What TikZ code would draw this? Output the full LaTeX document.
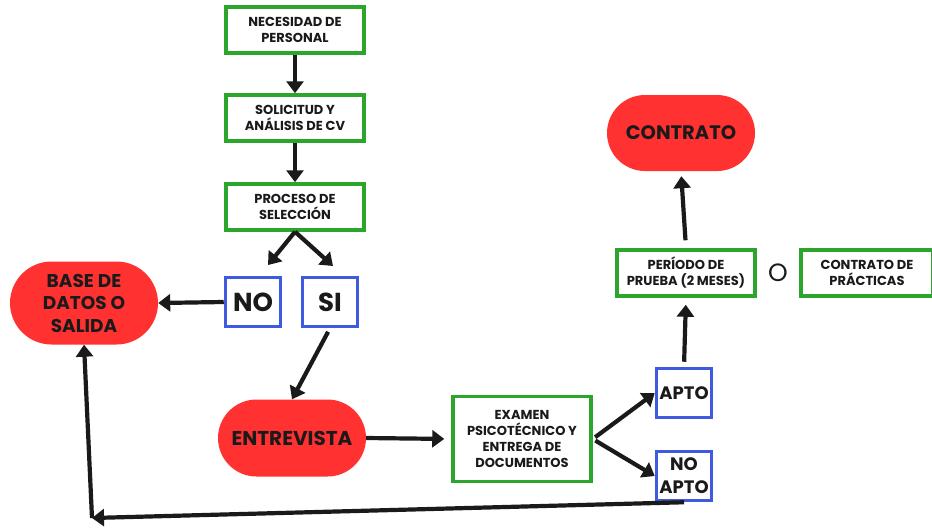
\documentclass[tikz,border=0pt]{standalone}
\usepackage{fontspec}
\setmainfont{Poppins}
\usepackage{xcolor}
\definecolor{flowgreen}{HTML}{2CA52C}
\definecolor{flowred}{HTML}{FF3131}
\definecolor{flowblue}{HTML}{3E5BE0}
\definecolor{flowtext}{HTML}{1A1A1A}
\usepackage{tikz}
\usetikzlibrary{arrows.meta, shapes.misc}

\begin{document}
\begin{tikzpicture}[x=1pt, y=-1pt,
    greenbox/.style={draw=flowgreen, line width=3.5pt, minimum width=138pt, minimum height=46pt,
      align=center, text=flowtext, inner sep=1pt, font=\bfseries\fontsize{13}{16}\selectfont},
    bluebox/.style={draw=flowblue, line width=3.5pt, minimum width=55pt, minimum height=49pt,
      align=center, text=flowtext, inner sep=0pt},
    redpill/.style={fill=flowred, rounded rectangle, minimum width=152pt, minimum height=80pt,
      align=center, text=flowtext, inner sep=2pt},
    flow/.style={-{Triangle[length=12pt, width=17pt]}, line width=4.2pt, flowtext}]
    \useasboundingbox (0,0) rectangle (932,528);
    % Main column
    \node[greenbox] (necesidad) at (295,30) {NECESIDAD DE\\PERSONAL};
    \node[greenbox] (solicitud) at (295,118) {SOLICITUD Y\\ANÁLISIS DE CV};
    \node[greenbox] (proceso) at (295,207) {PROCESO DE\\SELECCIÓN};
    \draw[flow] (necesidad.south) -- (solicitud.north);
    \draw[flow] (solicitud.south) -- (proceso.north);
    % Decision NO / SI
    \node[bluebox, font=\bfseries\fontsize{26}{28}\selectfont] (no) at (253,302) {NO};
    \node[bluebox, font=\bfseries\fontsize{26}{28}\selectfont] (si) at (330,302) {SI};
    \coordinate (noTip) at (268,265);
    \coordinate (siTip) at (333,266);
    \draw[flow] (proceso.south) -- (noTip);
    \draw[flow] (proceso.south) -- (siTip);
    \node[redpill, minimum height=83pt, font=\bfseries\fontsize{18.5}{22.5}\selectfont] (base) at (84,303)
      {BASE DE\\DATOS O\\SALIDA};
    \draw[flow] (no.west) -- (base.east);
    % Interview and exam
    \node[redpill, minimum height=77pt, font=\bfseries\fontsize{20}{22}\selectfont] (entrevista) at (292,438) {ENTREVISTA};
    \draw[flow, shorten <=4pt] (si.south) -- (entrevista.north);
    \node[greenbox, minimum height=85pt] (examen) at (522,439)
      {EXAMEN\\PSICOTÉCNICO Y\\ENTREGA DE\\DOCUMENTOS};
    \draw[flow, shorten >=7pt] (entrevista.east) -- (examen.west);
    \node[bluebox, font=\bfseries\fontsize{18}{23}\selectfont] (apto) at (684,393) {APTO};
    \node[bluebox, font=\bfseries\fontsize{18}{23}\selectfont] (noapto) at (684,476) {NO\\APTO};
    \draw[flow, shorten <=3pt] (examen.east) -- (apto.west);
    \draw[flow, shorten <=3pt] (examen.east) -- (noapto.west);
    % Trial period and contract
    \node[greenbox] (periodo) at (686,273) {PERÍODO DE\\PRUEBA (2 MESES)};
    \node[font=\fontsize{25}{27}\selectfont, text=flowtext] (o) at (778,273) {O};
    \node[greenbox, minimum width=132pt] (practicas) at (867,273) {CONTRATO DE\\PRÁCTICAS};
    \draw[flow, shorten <=5pt, shorten >=7pt] (apto.north) -- (periodo.south);
    \node[redpill, minimum height=76pt, font=\bfseries\fontsize{19.5}{22}\selectfont] (contrato) at (681,133) {CONTRATO};
    \draw[flow, shorten <=8pt, shorten >=5pt] (periodo.north) -- (contrato.south);
    % Return path to the database
    \coordinate (corner) at (92,518);
    \draw[flow] (noapto.south) -- (corner);
    \draw[flow] (corner) -- (base.south);
\end{tikzpicture}
\end{document}
